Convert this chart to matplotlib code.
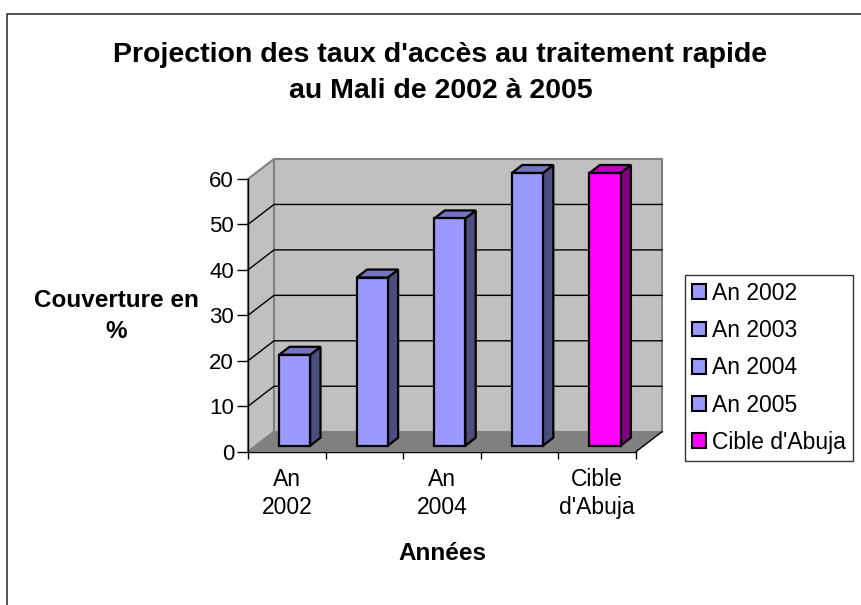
import matplotlib
matplotlib.use("Agg")
import matplotlib.pyplot as plt
from matplotlib.patches import Polygon, Patch
from matplotlib.lines import Line2D

plt.rcParams['font.family'] = ['Liberation Sans', 'DejaVu Sans']

categories = ["An 2002", "An 2003", "An 2004", "An 2005", "Cible d'Abuja"]
values = [20, 37, 50, 60, 60]
tick_labels = ["An\n2002", "", "An\n2004", "", "Cible\nd'Abuja"]
yticks = [0, 10, 20, 30, 40, 50, 60]
front_colors = ["#9999ff", "#9999ff", "#9999ff", "#9999ff", "#ff00ff"]
side_colors = ["#4d4d80", "#4d4d80", "#4d4d80", "#4d4d80", "#800080"]
top_colors = ["#7373bf", "#7373bf", "#7373bf", "#7373bf", "#bf00bf"]
title_lines = ["Projection des taux d'accès au traitement rapide", "au Mali de 2002 à 2005"]

W, H = 861, 605
fig = plt.figure(figsize=(W / 100, H / 100), dpi=100)
AX_L, AX_R, AX_B, AX_T = 248, 636, 451.7, 179
ax = fig.add_axes([AX_L / W, (H - AX_B) / H, (AX_R - AX_L) / W, (AX_B - AX_T) / H])
ax.set_xlim(-0.5, 4.5)
ax.set_ylim(0, 60)
ax.set_facecolor("none")

DX, DY = 0.335, 4.4  # full depth offset in data units


def P(x, y, d):
    return (x + d * DX, y + d * DY)


def poly(pts, fc, ec, lw, z):
    ax.add_patch(Polygon(pts, closed=True, facecolor=fc, edgecolor=ec, lw=lw,
                         zorder=z, clip_on=False, joinstyle="miter"))


x0, x1 = -0.5, 4.5
ymax = 60
# back wall
poly([P(x0, 0, 1), P(x1, 0, 1), P(x1, ymax, 1), P(x0, ymax, 1)], "#c0c0c0", "#808080", 1.5, 1)
# left side wall
poly([P(x0, 0, 0), P(x0, 0, 1), P(x0, ymax, 1), P(x0, ymax, 0)], "#c0c0c0", "#808080", 1.5, 1)
# floor
poly([P(x0, 0, 0), P(x1, 0, 0), P(x1, 0, 1), P(x0, 0, 1)], "#808080", "none", 0, 2)

# gridlines
for v in yticks[1:-1]:
    a, b = P(x0, v, 0), P(x0, v, 1)
    c = P(x1, v, 1)
    ax.add_line(Line2D([a[0], b[0], c[0]], [a[1], b[1], c[1]], color="black", lw=1,
                       zorder=3, clip_on=False))
# right floor edge
a, b = P(x1, 0, 0), P(x1, 0, 1)
ax.add_line(Line2D([a[0], b[0]], [a[1], b[1]], color="black", lw=1, zorder=3, clip_on=False))

# bars
w = 0.4
d0, d1 = 0.3, 0.7
for i, v in enumerate(values):
    l, r = i - w / 2, i + w / 2
    poly([P(l, 0, d0), P(r, 0, d0), P(r, v, d0), P(l, v, d0)], front_colors[i], "black", 1.6, 5)
    poly([P(r, 0, d0), P(r, 0, d1), P(r, v, d1), P(r, v, d0)], side_colors[i], "black", 1.6, 4)
    poly([P(l, v, d0), P(r, v, d0), P(r, v, d1), P(l, v, d1)], top_colors[i], "black", 1.6, 4)

for s in ["top", "right"]:
    ax.spines[s].set_visible(False)
for s in ["left", "bottom"]:
    ax.spines[s].set_linewidth(1)
    ax.spines[s].set_zorder(6)

ax.set_yticks(yticks)
ax.set_yticklabels([str(t) for t in yticks], fontsize=16)
ax.set_xticks([i - 0.5 for i in range(len(categories) + 1)])
ax.set_xticklabels([])
ax.set_xticks(range(len(categories)), minor=True)
ax.set_xticklabels(tick_labels, minor=True, fontsize=16.5, linespacing=1.25)
ax.tick_params(axis="x", which="minor", length=0, pad=12)
ax.tick_params(axis="x", which="major", length=5, width=1, direction="out")
ax.tick_params(axis="y", length=8, width=1, direction="out", pad=2)

ax.set_xlabel("Années", fontsize=17.5, fontweight="bold", va="center")
ax.xaxis.set_label_coords((442 - AX_L) / (AX_R - AX_L), (AX_B - 553) / (AX_B - AX_T))
ax.set_ylabel("Couverture en\n%", fontsize=17.5, fontweight="bold", rotation=0,
              ha="center", va="center", linespacing=1.43)
ax.yaxis.set_label_coords((116 - AX_L) / (AX_R - AX_L), (AX_B - 316) / (AX_B - AX_T))

for line, base in zip(title_lines, [61.7, 98.3]):
    fig.text(440.5 / W, 1 - base / H, line, ha="center", va="baseline",
             fontsize=20.5, fontweight="bold")

handles = [Patch(facecolor=front_colors[i], edgecolor="black", lw=1.5) for i in range(len(categories))]
leg = fig.legend(handles, categories, loc="upper left",
                 bbox_to_anchor=(685 / W, 1 - 275 / H), fontsize=16.5,
                 frameon=True, fancybox=False, edgecolor="black",
                 handlelength=0.62, handleheight=0.62, handletextpad=0.25,
                 labelspacing=0.62, borderpad=0.3, borderaxespad=0)
leg.get_frame().set_linewidth(1)

# chart area border
fig.add_artist(Line2D([7 / W, 7 / W, 1.0], [0, 1 - 14 / H, 1 - 14 / H],
                      transform=fig.transFigure, color="#333333", lw=1.2))

fig.savefig("out.png", dpi=100)
